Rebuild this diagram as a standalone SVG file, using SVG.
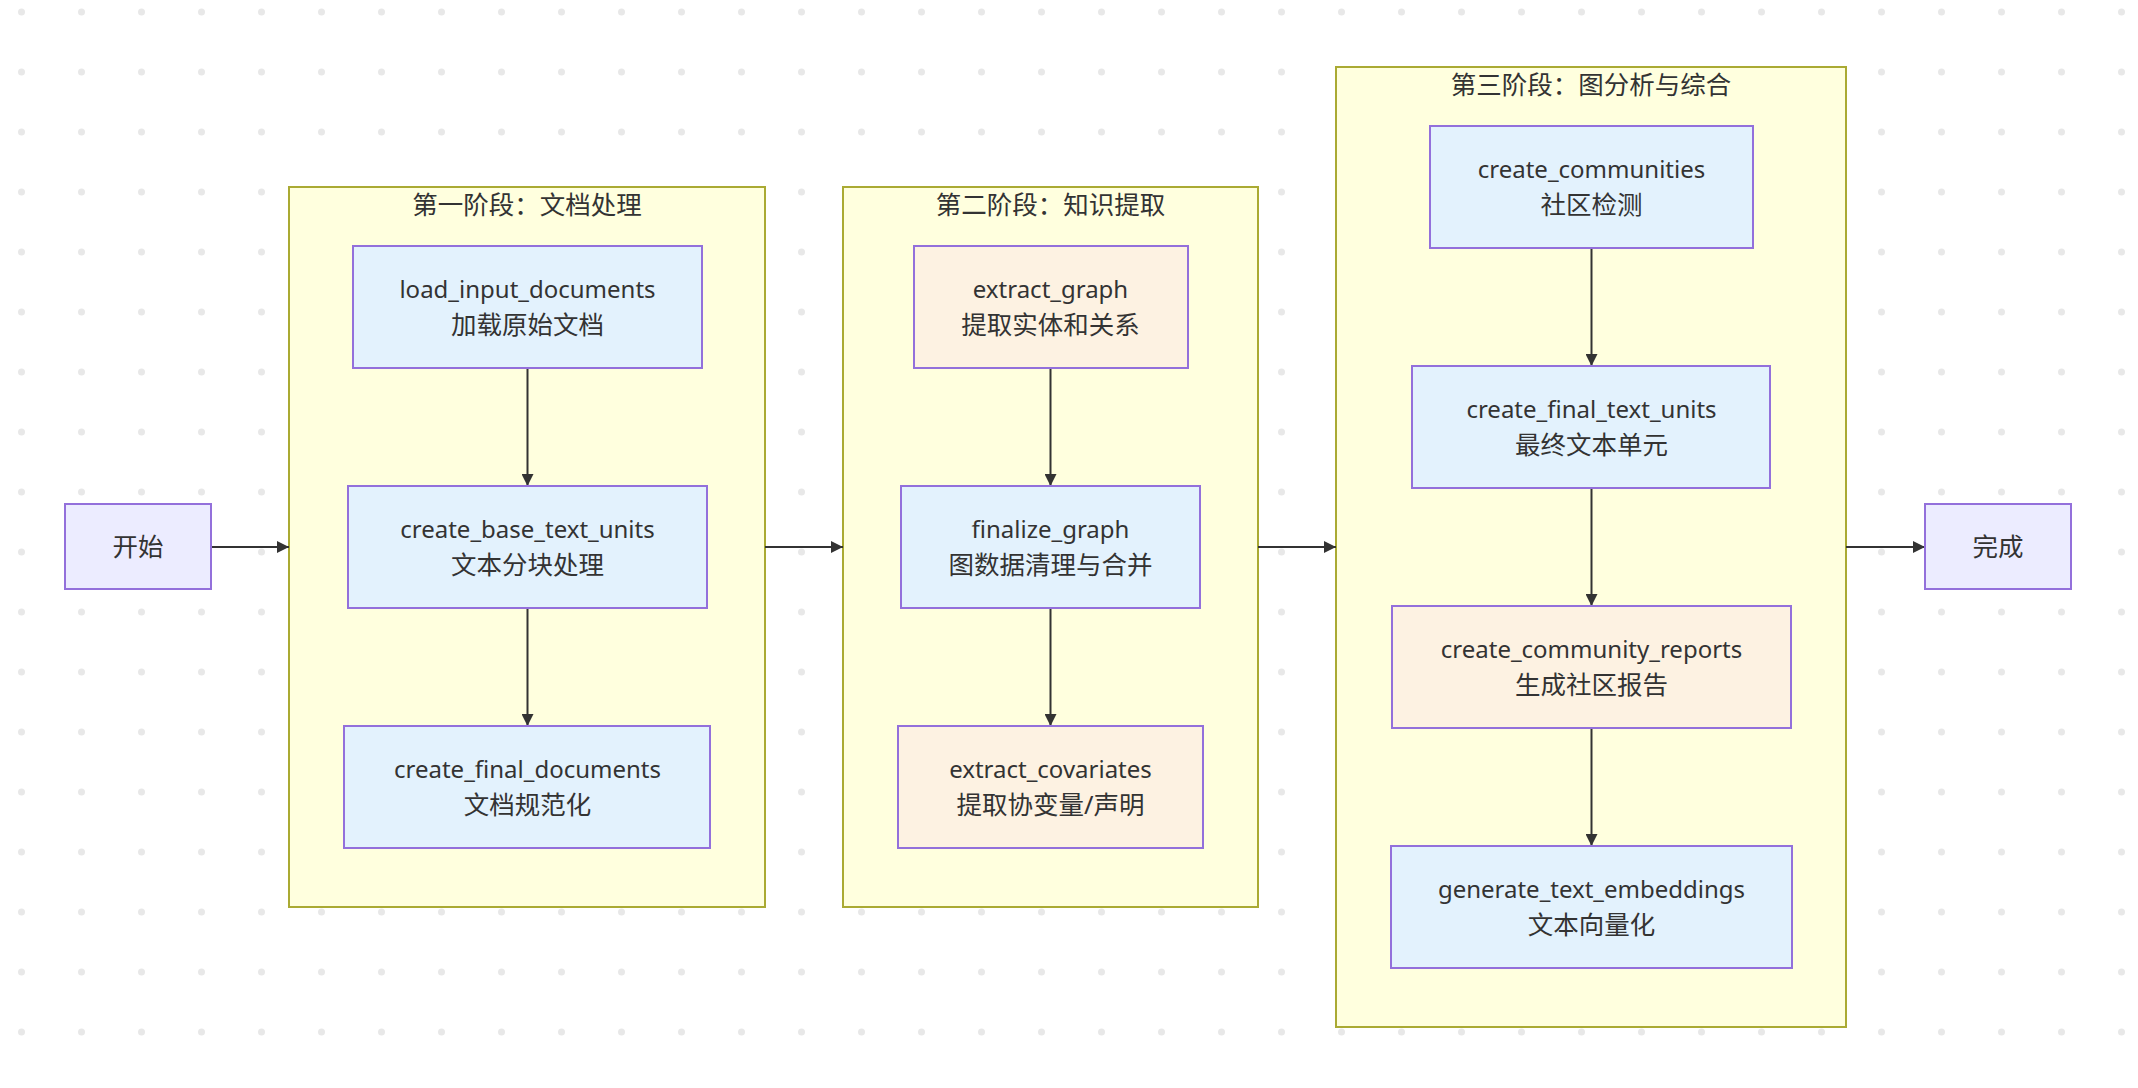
<svg xmlns="http://www.w3.org/2000/svg" width="2138" height="1088" viewBox="0 0 2138 1088">
<style>
  .cluster rect { fill: #ffffde; stroke: #aaaa33; stroke-width: 2; }
  .node rect { stroke: #9370db; stroke-width: 2; }
  .plain rect { fill: #ececff; }
  .blue rect { fill: #e3f2fd; }
  .orange rect { fill: #fdf2e2; }
  text { font-family: "Noto Sans", "Noto Sans CJK SC", sans-serif; font-size: 25.5px; fill: #333333; text-anchor: middle; dominant-baseline: central; }
  text.en { font-size: 24px; }
  .edge { stroke: #333333; stroke-width: 2; fill: none; marker-end: url(#arrow); }
</style>
<defs>
  <pattern id="dots" patternUnits="userSpaceOnUse" width="60" height="60">
    <circle cx="21.5" cy="12" r="3.5" fill="#e8e8e8"/>
  </pattern>
  <marker id="arrow" viewBox="0 0 12 12" refX="12" refY="6" markerWidth="12" markerHeight="12" markerUnits="userSpaceOnUse" orient="auto">
    <path d="M0,0 L12,6 L0,12 z" fill="#333333"/>
  </marker>
</defs>
<rect x="0" y="0" width="2138" height="1088" fill="#ffffff"/>
<rect x="0" y="0" width="2138" height="1088" fill="url(#dots)"/>

<g id="phase1" class="cluster">
  <rect x="289" y="187" width="476" height="720"/>
  <text x="527" y="204">第一阶段：文档处理</text>
</g>
<g id="phase2" class="cluster">
  <rect x="843" y="187" width="415" height="720"/>
  <text x="1050.5" y="204">第二阶段：知识提取</text>
</g>
<g id="phase3" class="cluster">
  <rect x="1336" y="67" width="510" height="960"/>
  <text x="1591" y="84">第三阶段：图分析与综合</text>
</g>

<g id="connectors">
  <line class="edge" x1="211" y1="547" x2="289" y2="547"/>
  <line class="edge" x1="765" y1="547" x2="843" y2="547"/>
  <line class="edge" x1="1258" y1="547" x2="1336" y2="547"/>
  <line class="edge" x1="1846" y1="547" x2="1925" y2="547"/>
  <line class="edge" x1="527.5" y1="368" x2="527.5" y2="486"/>
  <line class="edge" x1="527.5" y1="608" x2="527.5" y2="726"/>
  <line class="edge" x1="1050.5" y1="368" x2="1050.5" y2="486"/>
  <line class="edge" x1="1050.5" y1="608" x2="1050.5" y2="726"/>
  <line class="edge" x1="1591.5" y1="248" x2="1591.5" y2="366"/>
  <line class="edge" x1="1591.5" y1="488" x2="1591.5" y2="606"/>
  <line class="edge" x1="1591.5" y1="728" x2="1591.5" y2="846"/>
</g>

<g id="start" class="node plain">
  <rect x="65" y="504" width="146" height="85"/>
  <text x="138" y="546">开始</text>
</g>
<g id="done" class="node plain">
  <rect x="1925" y="504" width="146" height="85"/>
  <text x="1998" y="546">完成</text>
</g>

<g id="load_input_documents" class="node blue">
  <rect x="353" y="246" width="349" height="122"/>
  <text class="en" x="527.5" y="288">load_input_documents</text>
  <text x="527.5" y="324">加载原始文档</text>
</g>
<g id="create_base_text_units" class="node blue">
  <rect x="348" y="486" width="359" height="122"/>
  <text class="en" x="527.5" y="528">create_base_text_units</text>
  <text x="527.5" y="564">文本分块处理</text>
</g>
<g id="create_final_documents" class="node blue">
  <rect x="344" y="726" width="366" height="122"/>
  <text class="en" x="527.5" y="768">create_final_documents</text>
  <text x="527.5" y="804">文档规范化</text>
</g>

<g id="extract_graph" class="node orange">
  <rect x="914" y="246" width="274" height="122"/>
  <text class="en" x="1050.5" y="288">extract_graph</text>
  <text x="1050.5" y="324">提取实体和关系</text>
</g>
<g id="finalize_graph" class="node blue">
  <rect x="901" y="486" width="299" height="122"/>
  <text class="en" x="1050.5" y="528">finalize_graph</text>
  <text x="1050.5" y="564">图数据清理与合并</text>
</g>
<g id="extract_covariates" class="node orange">
  <rect x="898" y="726" width="305" height="122"/>
  <text class="en" x="1050.5" y="768">extract_covariates</text>
  <text x="1050.5" y="804">提取协变量/声明</text>
</g>

<g id="create_communities" class="node blue">
  <rect x="1430" y="126" width="323" height="122"/>
  <text class="en" x="1591.5" y="168">create_communities</text>
  <text x="1591.5" y="204">社区检测</text>
</g>
<g id="create_final_text_units" class="node blue">
  <rect x="1412" y="366" width="358" height="122"/>
  <text class="en" x="1591.5" y="408">create_final_text_units</text>
  <text x="1591.5" y="444">最终文本单元</text>
</g>
<g id="create_community_reports" class="node orange">
  <rect x="1392" y="606" width="399" height="122"/>
  <text class="en" x="1591.5" y="648">create_community_reports</text>
  <text x="1591.5" y="684">生成社区报告</text>
</g>
<g id="generate_text_embeddings" class="node blue">
  <rect x="1391" y="846" width="401" height="122"/>
  <text class="en" x="1591.5" y="888">generate_text_embeddings</text>
  <text x="1591.5" y="924">文本向量化</text>
</g>
</svg>
